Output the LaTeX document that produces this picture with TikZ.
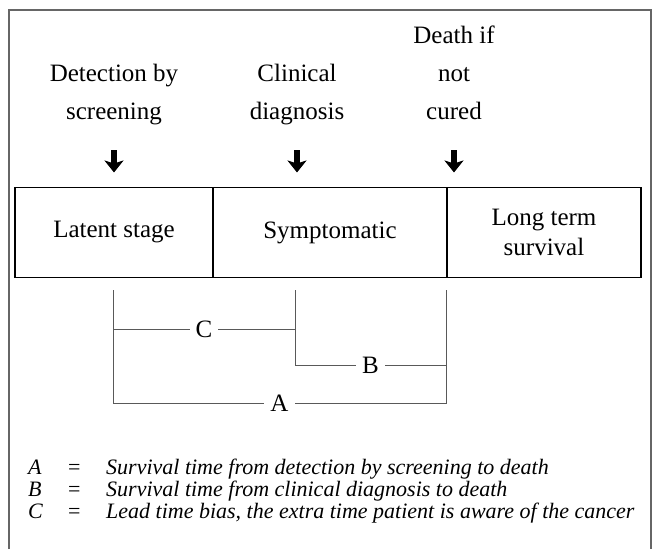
\documentclass[tikz,border=0pt]{standalone}
\usepackage{fontspec}
\setmainfont{Liberation Serif}
\usetikzlibrary{positioning, arrows.meta}

\begin{document}
\begin{tikzpicture}[x=1pt, y=-1pt, node distance=0pt,
    stage/.style={draw, line width=1.4pt, minimum height=90pt, outer sep=0pt,
        inner sep=0pt, align=center, font=\fontsize{25}{30}\selectfont},
    event/.style={align=center, anchor=south, inner sep=0pt, text depth=0pt,
        font=\fontsize{25}{38}\selectfont},
    pointer/.style={line width=6pt, -{Stealth[length=12pt, width=19pt, inset=3pt]},
        shorten <=30pt, shorten >=15pt},
    span/.style={draw=black!65, line width=0.9pt},
    spanlabel/.style={fill=white, inner sep=6pt, font=\fontsize{25}{25}\selectfont},
]
\useasboundingbox (0,0) rectangle (656,549);
\draw[black!60, line width=1.2pt] (9,549) -- (9,10) -- (651,10) -- (651,549);

\node[stage, minimum width=198pt] (latent) at (114,232.5) {Latent stage};
\node[stage, minimum width=234pt, right=of latent] (sympt) {Symptomatic};
\node[stage, minimum width=194pt, right=of sympt] (longterm) {Long term\\survival};

\node[event] (detect) at (114,120) {Detection by\\screening};
\node[event] (clinic) at (297,120) {Clinical\\diagnosis};
\node[event] (death) at (454,120) {Death if\\not\\cured};

\draw[pointer] (detect.south) -- (detect.south |- latent.north);
\draw[pointer] (clinic.south) -- (clinic.south |- sympt.north);
\draw[pointer] (death.south) -- (death.south |- longterm.north);

\coordinate (scr) at (113,290);
\coordinate (clin) at (295,290);
\coordinate (dth) at (446,290);

\draw[span] (scr |- 0,329) -- node[spanlabel] (lblC) {C} (clin |- 0,329);
\draw[span] (clin) |- node[spanlabel, pos=0.75] (lblB) {B} (dth |- 0,365);
\draw[span] (scr) |- node[spanlabel, pos=0.75] (lblA) {A} (dth |- 0,403) -- (dth);

\node[anchor=north west, inner sep=0pt, align=left,
    font=\fontsize{22}{22}\selectfont] (key) at (28,459) {%
    \makebox[40pt][l]{\itshape A}\makebox[38pt][l]{=}\textit{Survival time from detection by screening to death}\\
    \makebox[40pt][l]{\itshape B}\makebox[38pt][l]{=}\textit{Survival time from clinical diagnosis to death}\\
    \makebox[40pt][l]{\itshape C}\makebox[38pt][l]{=}\textit{Lead time bias, the extra time patient is aware of the cancer}};
\end{tikzpicture}
\end{document}
